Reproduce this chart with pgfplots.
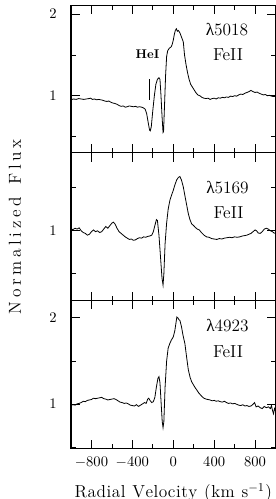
\documentclass[border=0pt]{standalone}
\usepackage{fontspec}
\newfontfamily\greekfont{Liberation Serif}
\usepackage{pgfplots}
\pgfplotsset{compat=1.18}

\newdimen\lsamount
\def\spaceout#1{\spaceoutA#1\relax\unkern}
\def\spaceoutA#1{\ifx#1\relax\else#1\kern\lsamount\expandafter\spaceoutA\fi}

\pgfplotstableread{
x y
-1000 0.95
-975 0.96
-950 0.955
-925 0.965
-900 0.96
-875 0.955
-850 0.96
-825 0.965
-810 0.97
-790 0.955
-770 0.96
-750 0.95
-730 0.955
-710 0.95
-690 0.945
-670 0.935
-650 0.93
-630 0.935
-610 0.92
-590 0.91
-570 0.905
-550 0.895
-530 0.88
-510 0.87
-490 0.875
-470 0.86
-450 0.865
-430 0.875
-410 0.87
-390 0.865
-370 0.87
-350 0.86
-330 0.865
-310 0.86
-290 0.85
-275 0.835
-260 0.78
-245 0.67
-232 0.58
-225 0.57
-215 0.62
-200 0.82
-185 1.0
-170 1.14
-155 1.20
-140 1.22
-130 1.20
-120 1.0
-110 0.75
-100 0.55
-95 0.56
-85 0.9
-75 1.25
-65 1.48
-55 1.55
-40 1.58
-20 1.60
-10 1.63
0 1.68
10 1.75
20 1.80
30 1.82
40 1.79
50 1.80
65 1.77
80 1.72
98 1.66
110 1.50
125 1.38
140 1.28
155 1.20
170 1.14
185 1.11
200 1.08
220 1.04
240 1.01
260 1.00
280 0.98
300 0.97
320 0.965
340 0.97
360 0.955
380 0.965
400 0.97
420 0.96
440 0.975
460 0.97
480 0.98
500 0.975
520 0.985
540 0.98
560 0.995
580 0.99
600 1.00
620 0.995
640 1.01
660 1.02
680 1.015
700 1.03
720 1.04
740 1.05
760 1.065
780 1.05
800 1.04
820 1.045
840 1.03
860 1.02
880 1.01
900 1.015
920 1.00
940 1.005
960 0.995
980 0.99
1000 0.99
}\tabA

\pgfplotstableread{
x y
-1000 1.02
-980 1.015
-960 1.03
-940 1.02
-920 1.035
-900 1.00
-880 0.98
-860 0.97
-840 0.95
-820 0.96
-800 0.99
-780 1.01
-760 0.99
-740 1.00
-720 0.98
-700 0.99
-680 1.02
-660 1.05
-640 1.03
-620 1.06
-600 1.09
-585 1.10
-570 1.08
-550 1.03
-530 0.99
-510 0.97
-490 0.95
-470 0.93
-450 0.915
-430 0.90
-410 0.905
-390 0.89
-370 0.895
-350 0.91
-330 0.92
-310 0.915
-290 0.93
-270 0.925
-250 0.935
-230 0.94
-210 0.95
-195 0.99
-180 1.06
-165 1.13
-155 1.12
-140 0.95
-125 0.70
-110 0.45
-100 0.37
-92 0.50
-80 0.85
-65 1.09
-50 1.25
-32 1.36
-15 1.42
0 1.47
15 1.53
33 1.59
50 1.62
65 1.63
80 1.59
98 1.51
115 1.40
131 1.30
147 1.20
163 1.13
180 1.08
200 1.06
215 1.04
235 1.02
255 1.01
275 0.98
300 0.95
325 0.93
350 0.925
375 0.91
400 0.905
425 0.90
450 0.91
475 0.905
500 0.915
525 0.92
550 0.925
575 0.92
600 0.93
625 0.925
650 0.93
675 0.94
700 0.945
720 0.95
740 0.96
760 0.97
780 0.99
800 1.01
815 1.00
830 0.975
850 0.97
870 0.99
890 1.02
910 1.03
930 1.02
950 1.00
970 0.99
985 0.975
1000 0.97
}\tabB

\pgfplotstableread{
x y
-1000 0.99
-980 0.995
-960 0.99
-940 1.005
-920 1.01
-900 1.02
-880 1.035
-860 1.03
-840 1.045
-820 1.05
-800 1.055
-780 1.07
-760 1.065
-740 1.07
-720 1.075
-700 1.08
-680 1.065
-660 1.06
-640 1.05
-620 1.055
-600 1.06
-580 1.065
-560 1.055
-540 1.04
-520 1.025
-500 1.02
-480 1.01
-460 1.015
-440 1.005
-420 0.99
-400 0.985
-380 0.98
-360 0.995
-340 0.975
-320 0.99
-300 1.005
-280 1.02
-265 1.01
-250 1.06
-240 1.07
-225 1.04
-210 1.02
-195 1.03
-180 1.08
-165 1.20
-150 1.30
-140 1.32
-130 1.25
-118 1.00
-108 0.80
-100 0.73
-92 0.80
-80 1.20
-65 1.50
-50 1.65
-35 1.70
-20 1.74
0 1.78
15 1.85
25 1.93
35 2.01
45 2.00
55 1.98
65 1.97
80 1.90
95 1.80
114 1.70
130 1.55
147 1.40
165 1.31
180 1.26
200 1.22
215 1.19
230 1.165
250 1.13
265 1.11
280 1.09
300 1.07
320 1.06
340 1.055
360 1.05
380 1.04
400 1.045
420 1.035
440 1.04
460 1.03
480 1.025
500 1.035
520 1.02
540 1.01
560 1.015
580 1.005
600 1.01
620 1.00
640 0.99
660 0.985
680 0.995
700 0.98
720 0.985
740 0.975
760 0.98
780 1.00
795 1.02
810 0.97
830 0.98
850 0.96
870 0.95
890 0.975
910 0.96
930 0.97
950 0.95
960 0.985
970 0.93
980 0.89
990 0.95
1000 0.92
}\tabC

\pgfplotsset{
  panel/.style={
    scale only axis, width=153.4pt, height=110.8pt,
    anchor=south west,
    xmin=-1000, xmax=1000,
    xtick={-800,-400,0,400,800}, minor x tick num=1,
    ytick={1,2}, minor ytick={0.5,1.5},
    tick align=inside,
    major tick length=6.5pt, minor tick length=3.5pt,
    every axis/.append style={line width=0.8pt},
    tick style={black, line width=0.6pt},
    tick label style={font=\fontsize{10.5}{12}\selectfont},
    yticklabel shift=7pt, xticklabel shift=3pt,
  },
  spec/.style={black, line width=0.6pt, no marks},
}
\tikzset{lab/.style={font=\fontsize{13}{14}\selectfont, anchor=center}}

\begin{document}
\begin{tikzpicture}
% Panel 1
\begin{axis}[panel, at={(53.25pt,259.6pt)}, ymin=0.30, ymax=2.11, xticklabels={}]
\addplot[spec] table[x=x,y=y] {\tabA};
\addplot[black, line width=0.6pt] coordinates {(-237,0.95) (-237,1.21)};
\node[font=\fontsize{9.5}{11}\selectfont\bfseries] at (axis cs:-252,1.51) {HeI};
\node[lab] at (axis cs:525,1.805) {{\greekfont λ}5018};
\node[lab] at (axis cs:535,1.50) {FeII};
\end{axis}
% Panel 2
\begin{axis}[panel, at={(53.25pt,148.8pt)}, ymin=0.19, ymax=1.905, xticklabels={},
  ylabel={\lsamount=2.7pt\spaceout{Normalized\ Flux}},
  ylabel style={at={(axis description cs:-0.274,0.5)}, anchor=center, font=\fontsize{13}{14}\selectfont}]
\addplot[spec] table[x=x,y=y] {\tabB};
\node[lab] at (axis cs:530,1.50) {{\greekfont λ}5169};
\node[lab] at (axis cs:540,1.214) {FeII};
\end{axis}
% Panel 3
\begin{axis}[panel, at={(53.25pt,38pt)}, ymin=0.49, ymax=2.20,
  xlabel={\lsamount=0.4pt\spaceout{Radial\ Velocity\ (km\ s}$^{-1}$\kern0.4pt)},
  xlabel style={at={(axis description cs:0.5,0)}, anchor=base, yshift=-36.5pt, font=\fontsize{13}{14}\selectfont}]
\addplot[spec] table[x=x,y=y] {\tabC};
\node[lab] at (axis cs:530,1.915) {{\greekfont λ}4923};
\node[lab] at (axis cs:535,1.61) {FeII};
\end{axis}
\pgfresetboundingbox
\useasboundingbox (0,0) rectangle (206.25pt,374.25pt);
\end{tikzpicture}
\end{document}
